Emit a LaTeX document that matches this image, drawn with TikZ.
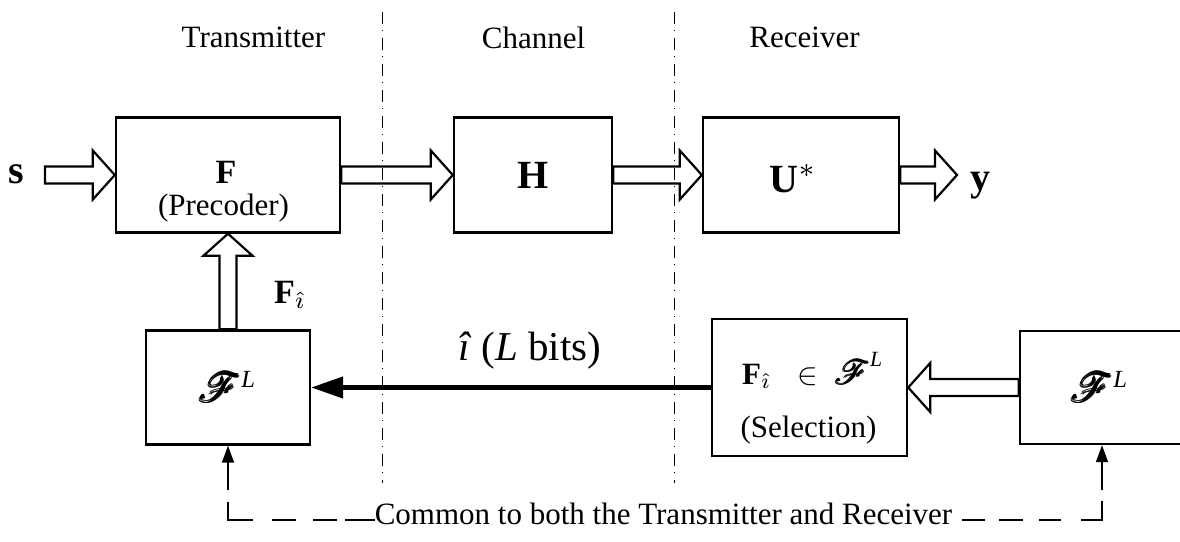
\documentclass[tikz,border=0pt]{standalone}
\usepackage{amsmath}
\usepackage{graphicx}
\usepackage{mathrsfs}
\usepackage{fontspec}
\setmainfont{Liberation Serif}
\usetikzlibrary{arrows.meta,calc}
\newcommand\fs[1]{\fontsize{#1}{#1}\selectfont}
\newcommand\mth[2]{\scalebox{#1}{\fs{10}#2}}
\newcommand\supL{^{\text{\fs{6}\textit{L}}}}
\newcommand\hollowarrow[2]{%
  \draw[hollow] let \p1=(#1), \p2=(#2), \n1={atan2(\y2-\y1,\x2-\x1)}, \n2={veclen(\x2-\x1,\y2-\y1)} in
   [shift={(\x1,\y1)}, rotate=\n1]
   (0pt,8.5pt) -- (\n2*1pt-22pt,8.5pt) -- (\n2*1pt-22pt,24.5pt) -- (\n2*1pt,0pt)
   -- (\n2*1pt-22pt,-24.5pt) -- (\n2*1pt-22pt,-8.5pt) -- (0pt,-8.5pt) -- cycle;}
\tikzset{
  box/.style={draw, line width=2.4pt, inner sep=0pt},
  hollow/.style={line width=2.2pt, line join=miter},
  sepline/.style={line width=1pt, dash pattern=on 12pt off 6pt on 1pt off 7pt},
  smallarrow/.style={line width=1.5pt, -{Triangle[length=17pt,width=12pt]}},
  thickarrow/.style={line width=4.5pt, -{Triangle[length=32pt,width=21pt]}},
  commonline/.style={line width=1.5pt},
  lbl/.style={inner sep=0pt, anchor=base}
}
\begin{document}
\begin{tikzpicture}[x=1pt,y=-1pt]
\useasboundingbox (0,0) rectangle (1180,541);
\begin{scope}
\clip (0,0) rectangle (1180,541);
% separators
\coordinate (s1t) at (382,12); \coordinate (s1b) at (382,483);
\coordinate (s2t) at (674,12); \coordinate (s2b) at (674,483);
\draw[sepline] (s1t) -- (s1b);
\draw[sepline] (s2t) -- (s2b);
% headings
\node[lbl] (tx) at (253.5,47) {\fs{31}Transmitter};
\node[lbl] (ch) at (533.5,48) {\fs{31}Channel};
\node[lbl] (rx) at (804.5,47) {\fs{31}Receiver};
% boxes
\node[box, minimum width=224pt, minimum height=115pt] (F) at (228,175) {};
\node[box, minimum width=158pt, minimum height=115pt] (H) at (533,175) {};
\node[box, minimum width=196pt, minimum height=115pt] (U) at (801,175) {};
\node[box, minimum width=164pt, minimum height=114pt] (FLl) at (228,387.5) {};
\node[box, minimum width=195pt, minimum height=137pt] (Sel) at (809.5,387.5) {};
\node[box, minimum width=164pt, minimum height=113pt] (FLr) at (1102,387.5) {};
% box texts
\node[lbl] (Ft) at (226,183) {\fs{34}\textbf{F}};
\node[lbl] (Pt) at (223.5,215) {\fs{31}(Precoder)};
\node[lbl] (Ht) at (533,188) {\fs{40}\textbf{H}};
\node[lbl] (Ut) at (793,192) {\mth{4}{\textbf{U}$^{*}$}};
\node[lbl] (FLlt) at (228,402) {\mth{4.1}{$\pmb{\mathscr{F}}\supL$}};
\node[lbl] (FLrt) at (1100,402) {\mth{4.1}{$\pmb{\mathscr{F}}\supL$}};
\node[lbl] (St) at (813,384) {\mth{3.1}{$\textbf{F}_{\hat{\imath}}\;\;\in\;\scalebox{1.1}{$\pmb{\mathscr{F}}$}^{\textit{L}}$}};
\node[lbl] (Sl) at (808.5,437) {\fs{31}(Selection)};
% signal labels
\node[lbl] (sl) at (16.5,183) {\fs{40}\textbf{s}};
\node[lbl] (yl) at (980,190) {\fs{40}\textbf{y}};
\node[lbl, anchor=base west] (Fi) at (274,303) {\mth{3.4}{$\textbf{F}_{\hat{\imath}}$}};
\node[lbl, anchor=base west] (bits) at (458,360) {\fs{41}\textit{î} (\textit{L} bits)};
% hollow arrows
\coordinate (sTail) at (45,175);
\coordinate (yTip) at (957,175);
\hollowarrow{sTail}{F.west}
\hollowarrow{F.east}{H.west}
\hollowarrow{H.east}{U.west}
\hollowarrow{U.east}{yTip}
\hollowarrow{FLl.north}{F.south}
\hollowarrow{FLr.west}{Sel.east}
% feedback
\draw[thickarrow] (Sel.west) -- (FLl.east);
% common
\node[lbl] (common) at (663.5,524) {\fs{31}Common to both the Transmitter and Receiver};
\coordinate (cl) at (228,490);
\coordinate (cr) at (1102,490);
\coordinate (cwl) at ($(common.base west)+(0,-4)$);
\coordinate (cwr) at ($(common.base east)+(0,-4)$);
\draw[smallarrow] (cl) -- (FLl.south);
\draw[smallarrow] (cr) -- (FLr.south);
\draw[commonline, dash pattern=on 0pt off 12pt on 43pt off 19pt on 24pt off 17pt on 24pt off 8pt on 40pt off 40pt] (cl) |- (cwl);
\draw[commonline, dash pattern=on 0pt off 10pt on 23pt off 14pt on 24pt off 16pt on 22pt off 20pt on 40pt off 40pt] (cwr) -| (cr);
\end{scope}
\end{tikzpicture}
\end{document}
